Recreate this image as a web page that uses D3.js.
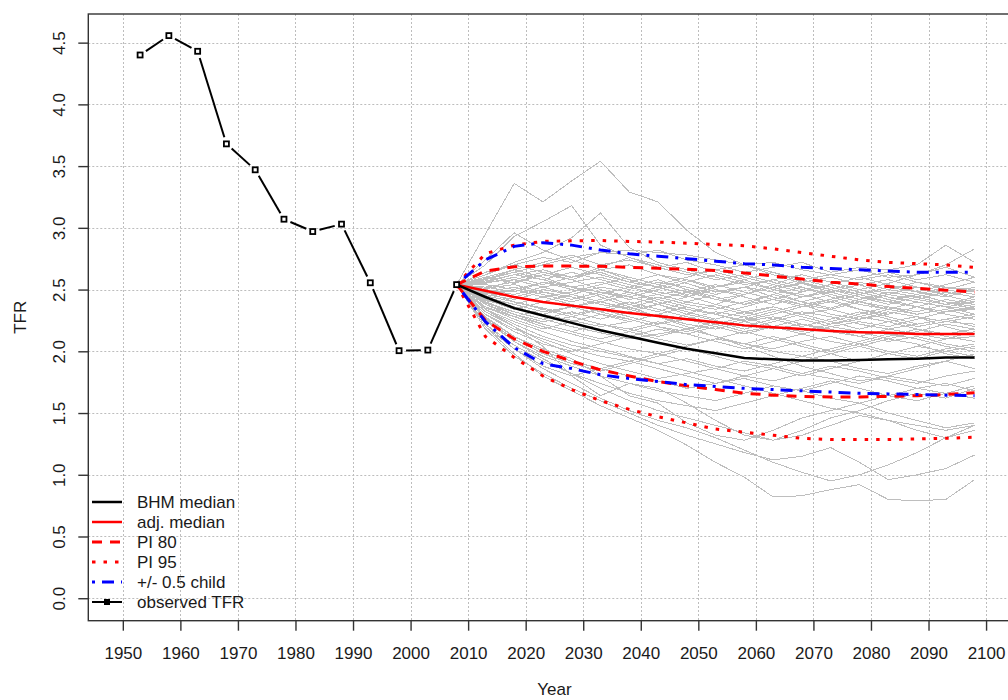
<!DOCTYPE html>
<html>
<head>
<meta charset="utf-8">
<script src="https://cdn.jsdelivr.net/npm/d3@7"></script>
<style>
  html, body { margin: 0; padding: 0; background: #fff; }
  svg { display: block; font-family: "Liberation Sans", Arial, sans-serif; }
</style>
</head>
<body>
<svg id="chart" width="1008" height="700"></svg>
<script>
// ---------------- data ----------------
const obsYears = [1953, 1958, 1963, 1968, 1973, 1978, 1983, 1988, 1993, 1998, 2003, 2008];
const obsTFR   = [4.40, 4.557, 4.43, 3.68, 3.47, 3.07, 2.97, 3.03, 2.555, 2.005, 2.01, 2.54];

const projYears = [2008, 2013, 2018, 2023, 2028, 2033, 2038, 2043, 2048, 2053, 2058, 2063, 2068, 2073, 2078, 2083, 2088, 2093, 2098];
const bhmMedian = [2.54, 2.44, 2.35, 2.29, 2.23, 2.17, 2.12, 2.07, 2.02, 1.985, 1.945, 1.935, 1.925, 1.925, 1.93, 1.935, 1.94, 1.95, 1.95];
const adjMedian = [2.54, 2.49, 2.44, 2.40, 2.37, 2.34, 2.31, 2.285, 2.26, 2.235, 2.21, 2.195, 2.18, 2.165, 2.155, 2.15, 2.14, 2.14, 2.14];
const pi80Upper = [2.54, 2.65, 2.685, 2.69, 2.69, 2.688, 2.68, 2.672, 2.665, 2.655, 2.635, 2.61, 2.585, 2.56, 2.545, 2.525, 2.51, 2.495, 2.48];
const pi80Lower = [2.54, 2.25, 2.10, 2.00, 1.92, 1.85, 1.80, 1.755, 1.72, 1.69, 1.66, 1.645, 1.635, 1.63, 1.63, 1.635, 1.64, 1.65, 1.665];
const pi95Upper = [2.54, 2.79, 2.86, 2.89, 2.895, 2.898, 2.89, 2.885, 2.875, 2.865, 2.855, 2.83, 2.80, 2.77, 2.74, 2.72, 2.71, 2.70, 2.68];
const pi95Lower = [2.54, 2.12, 1.95, 1.80, 1.69, 1.60, 1.53, 1.47, 1.42, 1.37, 1.345, 1.32, 1.295, 1.285, 1.285, 1.285, 1.29, 1.295, 1.305];
const halfChildUpper = [2.54, 2.74, 2.85, 2.88, 2.86, 2.82, 2.79, 2.77, 2.75, 2.73, 2.71, 2.70, 2.68, 2.67, 2.66, 2.65, 2.64, 2.64, 2.64];
const halfChildLower = [2.54, 2.24, 2.03, 1.90, 1.86, 1.81, 1.78, 1.755, 1.73, 1.715, 1.70, 1.69, 1.68, 1.67, 1.66, 1.655, 1.65, 1.645, 1.64];

// trajectories: values for 2013..2098 (all start at 2008 = 2.54)
const trajStart = 2.54;
const trajectories = [
  [2.95,3.36,3.21,3.38,3.54,3.29,3.21,2.98,2.80,2.70,2.62,2.55,2.50,2.44,2.40,2.46,2.40,2.36],
  [2.70,2.93,3.05,3.18,2.86,2.76,2.68,2.72,2.64,2.58,2.50,2.55,2.48,2.42,2.46,2.52,2.45,2.40],
  [2.62,2.72,2.80,2.92,3.12,2.84,2.72,2.66,2.60,2.54,2.58,2.62,2.56,2.50,2.55,2.62,2.68,2.60],
  [2.74,2.96,2.82,2.74,2.66,2.70,2.62,2.55,2.48,2.52,2.44,2.38,2.42,2.34,2.30,2.36,2.32,2.34],
  [2.64,2.70,2.76,2.72,2.80,2.78,2.82,2.74,2.70,2.64,2.68,2.72,2.64,2.68,2.66,2.70,2.86,2.72],
  [2.60,2.66,2.72,2.78,2.70,2.74,2.68,2.62,2.66,2.70,2.64,2.58,2.62,2.66,2.60,2.62,2.70,2.83],
  [2.56,2.62,2.66,2.60,2.64,2.56,2.52,2.58,2.50,2.46,2.52,2.44,2.48,2.54,2.46,2.42,2.48,2.44],
  [2.52,2.48,2.56,2.50,2.46,2.52,2.58,2.50,2.42,2.38,2.46,2.52,2.44,2.38,2.34,2.40,2.36,2.30],
  [2.48,2.52,2.46,2.40,2.46,2.38,2.32,2.40,2.46,2.52,2.48,2.40,2.35,2.42,2.48,2.44,2.38,2.40],
  [2.50,2.44,2.40,2.36,2.42,2.48,2.40,2.34,2.30,2.36,2.42,2.38,2.30,2.26,2.32,2.28,2.24,2.28],
  [2.56,2.58,2.52,2.46,2.40,2.35,2.42,2.36,2.30,2.25,2.30,2.36,2.40,2.34,2.28,2.22,2.26,2.20],
  [2.45,2.40,2.35,2.30,2.34,2.28,2.22,2.26,2.32,2.28,2.20,2.16,2.22,2.28,2.24,2.18,2.14,2.18],
  [2.60,2.55,2.62,2.58,2.50,2.44,2.38,2.30,2.25,2.20,2.26,2.32,2.28,2.22,2.18,2.14,2.10,2.12],
  [2.42,2.36,2.30,2.25,2.20,2.24,2.30,2.36,2.30,2.24,2.18,2.22,2.16,2.12,2.18,2.22,2.26,2.30],
  [2.50,2.46,2.52,2.56,2.60,2.54,2.48,2.44,2.52,2.58,2.64,2.56,2.50,2.46,2.40,2.36,2.32,2.35],
  [2.46,2.42,2.48,2.44,2.38,2.34,2.28,2.22,2.18,2.24,2.28,2.22,2.18,2.12,2.08,2.12,2.06,2.02],
  [2.40,2.32,2.26,2.20,2.15,2.10,2.14,2.18,2.12,2.06,2.02,2.08,2.12,2.06,2.00,1.96,2.02,2.06],
  [2.38,2.30,2.24,2.28,2.22,2.16,2.10,2.05,2.10,2.16,2.20,2.14,2.08,2.04,2.10,2.06,1.98,1.94],
  [2.44,2.38,2.32,2.36,2.40,2.46,2.52,2.45,2.38,2.32,2.36,2.30,2.34,2.40,2.36,2.32,2.38,2.44],
  [2.36,2.28,2.20,2.14,2.08,2.02,1.98,2.04,2.10,2.06,2.00,1.96,2.02,2.08,2.14,2.10,2.04,2.00],
  [2.34,2.22,2.12,2.05,2.00,1.95,1.90,1.94,1.88,1.84,1.90,1.96,1.92,1.86,1.82,1.88,1.92,1.86],
  [2.30,2.18,2.10,2.02,1.96,1.92,1.98,1.92,1.86,1.80,1.76,1.82,1.88,1.84,1.78,1.74,1.80,1.84],
  [2.32,2.20,2.08,1.98,1.90,1.84,1.78,1.82,1.86,1.92,1.88,1.82,1.78,1.74,1.80,1.76,1.72,1.78],
  [2.28,2.12,2.00,1.92,1.86,1.80,1.76,1.70,1.74,1.78,1.72,1.68,1.74,1.80,1.76,1.70,1.66,1.72],
  [2.25,2.08,1.96,1.88,1.80,1.74,1.68,1.64,1.60,1.66,1.72,1.68,1.62,1.58,1.64,1.70,1.74,1.68],
  [2.22,2.05,1.92,1.82,1.74,1.66,1.60,1.56,1.52,1.58,1.64,1.70,1.76,1.70,1.64,1.60,1.66,1.62],
  [2.20,1.98,1.80,1.68,1.56,1.46,1.36,1.24,1.10,0.98,0.82,0.83,0.88,0.92,0.80,0.79,0.80,0.96],
  [2.18,1.96,1.82,1.70,1.60,1.50,1.40,1.32,1.25,1.18,1.12,1.15,1.22,1.10,0.96,1.00,1.05,1.16],
  [2.22,2.02,1.86,1.74,1.62,1.52,1.44,1.38,1.30,1.20,1.10,1.02,0.95,1.00,1.08,1.18,1.30,1.40],
  [2.26,2.08,1.94,1.82,1.70,1.60,1.52,1.46,1.40,1.34,1.28,1.32,1.40,1.48,1.44,1.36,1.30,1.36],
  [2.48,2.40,2.34,2.28,2.34,2.40,2.34,2.28,2.22,2.28,2.34,2.28,2.22,2.26,2.30,2.36,2.30,2.26],
  [2.42,2.34,2.40,2.46,2.40,2.34,2.38,2.44,2.50,2.44,2.38,2.44,2.50,2.56,2.50,2.46,2.52,2.48],
  [2.54,2.50,2.44,2.48,2.54,2.60,2.54,2.48,2.42,2.46,2.52,2.58,2.52,2.46,2.50,2.56,2.50,2.46],
  [2.36,2.26,2.18,2.24,2.30,2.26,2.20,2.14,2.20,2.26,2.32,2.38,2.34,2.28,2.34,2.40,2.36,2.34],
  [2.30,2.16,2.06,2.00,2.06,2.12,2.18,2.14,2.08,2.02,2.08,2.14,2.20,2.16,2.10,2.16,2.22,2.18],
  [2.26,2.10,1.98,1.90,1.84,1.90,1.96,2.02,1.96,1.90,1.86,1.92,1.98,2.04,1.98,1.94,2.00,2.04],
  [2.20,2.02,1.88,1.80,1.86,1.92,1.86,1.80,1.74,1.80,1.86,1.80,1.86,1.92,1.98,2.04,2.00,1.96],
  [2.58,2.66,2.60,2.52,2.44,2.36,2.28,2.20,2.12,2.04,1.96,1.88,1.82,1.76,1.80,1.86,1.92,1.98],
  [2.40,2.30,2.22,2.16,2.10,2.16,2.22,2.30,2.38,2.46,2.54,2.62,2.56,2.50,2.44,2.40,2.36,2.40],
  [2.34,2.24,2.16,2.08,2.02,1.96,1.90,1.84,1.78,1.72,1.66,1.60,1.54,1.50,1.44,1.40,1.36,1.40],
  [2.27,2.12,2.02,1.94,1.80,1.64,1.58,1.42,1.32,1.28,1.36,1.46,1.52,1.58,1.50,1.44,1.38,1.42],
  [2.62,2.70,2.64,2.58,2.66,2.60,2.54,2.60,2.66,2.60,2.54,2.48,2.54,2.60,2.54,2.48,2.44,2.50],
  [2.38,2.28,2.34,2.28,2.22,2.18,2.24,2.18,2.12,2.06,2.12,2.06,2.00,2.06,2.12,2.18,2.12,2.08],
  [2.44,2.50,2.44,2.38,2.32,2.26,2.20,2.16,2.22,2.16,2.10,2.04,1.98,1.92,1.98,2.04,2.10,2.16],
  [2.52,2.56,2.62,2.68,2.62,2.56,2.62,2.58,2.52,2.56,2.50,2.46,2.40,2.46,2.52,2.48,2.54,2.60],
  [2.34,2.20,2.04,1.80,1.64,1.74,1.70,1.58,1.44,1.32,1.28,1.36,1.46,1.52,1.60,1.66,1.62,1.70],
  [2.58,2.64,2.70,2.76,2.80,2.82,2.80,2.78,2.74,2.70,2.72,2.66,2.62,2.58,2.62,2.56,2.52,2.50],
  [2.50,2.58,2.64,2.60,2.68,2.76,2.70,2.64,2.58,2.62,2.56,2.50,2.54,2.60,2.64,2.58,2.62,2.56],
  [2.55,2.60,2.54,2.60,2.66,2.58,2.52,2.46,2.52,2.58,2.50,2.44,2.50,2.44,2.38,2.44,2.50,2.56],
  [2.47,2.44,2.50,2.46,2.52,2.48,2.42,2.48,2.54,2.48,2.42,2.36,2.42,2.48,2.42,2.36,2.42,2.38],
  [2.43,2.38,2.44,2.38,2.32,2.38,2.44,2.38,2.34,2.40,2.46,2.40,2.46,2.40,2.34,2.30,2.34,2.28],
  [2.57,2.62,2.58,2.64,2.58,2.52,2.46,2.50,2.44,2.38,2.42,2.48,2.54,2.48,2.42,2.46,2.40,2.34],
  [2.39,2.32,2.26,2.32,2.26,2.32,2.38,2.32,2.26,2.32,2.26,2.20,2.26,2.32,2.26,2.20,2.24,2.22],
  [2.51,2.54,2.48,2.42,2.48,2.42,2.46,2.40,2.36,2.30,2.36,2.30,2.24,2.30,2.36,2.30,2.34,2.38],
  [2.46,2.50,2.56,2.52,2.48,2.44,2.50,2.56,2.62,2.56,2.50,2.56,2.60,2.54,2.58,2.52,2.46,2.52],
  [2.35,2.28,2.22,2.16,2.22,2.18,2.12,2.18,2.24,2.18,2.24,2.30,2.24,2.18,2.24,2.28,2.20,2.14],
  [2.41,2.36,2.30,2.36,2.30,2.24,2.30,2.26,2.20,2.14,2.20,2.26,2.20,2.24,2.20,2.26,2.32,2.36],
  [2.59,2.64,2.58,2.52,2.56,2.50,2.56,2.52,2.46,2.52,2.58,2.52,2.46,2.40,2.46,2.42,2.38,2.42]
];

const xTicks = [1950, 1960, 1970, 1980, 1990, 2000, 2010, 2020, 2030, 2040, 2050, 2060, 2070, 2080, 2090, 2100];
const yTicks = [0, 0.5, 1, 1.5, 2, 2.5, 3, 3.5, 4, 4.5];

const legendItems = [
  { label: "BHM median",    color: "#000000", dash: null,          width: 2.5, marker: false },
  { label: "adj. median",   color: "#ff0000", dash: null,          width: 2.5, marker: false },
  { label: "PI 80",         color: "#ff0000", dash: "10,8",        width: 3,   marker: false },
  { label: "PI 95",         color: "#ff0000", dash: "3.5,8",       width: 3,   marker: false },
  { label: "+/- 0.5 child", color: "#0000ff", dash: "3,7,12,7",    width: 3,   marker: false },
  { label: "observed TFR",  color: "#000000", dash: null,          width: 2,   marker: true  }
];

// ---------------- layout ----------------
const svg = d3.select("#chart");
const plotLeft = 88.3, plotRight = 1020.6, plotTop = 14, plotBottom = 620.7;
const x = d3.scaleLinear().domain([1944, 2106]).range([plotLeft, plotRight]);
const y = d3.scaleLinear().domain([-0.182, 4.732]).range([plotBottom, plotTop]);
const FONT = 17;
const TXT = "#1a1a1a";

// grid
const grid = svg.append("g").attr("stroke", "#bdbdbd").attr("stroke-width", 1).attr("stroke-dasharray", "2,2");
grid.selectAll("line.gx").data(xTicks).join("line")
  .attr("x1", d => Math.round(x(d)) + 0.5).attr("x2", d => Math.round(x(d)) + 0.5)
  .attr("y1", plotTop).attr("y2", plotBottom);
grid.selectAll("line.gy").data(yTicks).join("line")
  .attr("y1", d => Math.round(y(d)) + 0.5).attr("y2", d => Math.round(y(d)) + 0.5)
  .attr("x1", plotLeft).attr("x2", plotRight);

// trajectories
const line = d3.line().x(d => x(d[0])).y(d => y(d[1]));
const trajG = svg.append("g").attr("shape-rendering", "crispEdges");
trajectories.forEach(t => {
  const pts = [[projYears[0], trajStart]].concat(t.map((v, i) => [projYears[i + 1], v]));
  trajG.append("path").attr("d", line(pts)).attr("fill", "none")
    .attr("stroke", "#bebebe").attr("stroke-width", 1);
});

function drawSeries(vals, color, width, dash) {
  const p = svg.append("path")
    .attr("d", line(projYears.map((yr, i) => [yr, vals[i]])))
    .attr("fill", "none").attr("stroke", color).attr("stroke-width", width);
  if (dash) p.attr("stroke-dasharray", dash);
}
drawSeries(pi95Upper, "#ff0000", 3, "3.5,8");
drawSeries(pi95Lower, "#ff0000", 3, "3.5,8");
drawSeries(pi80Upper, "#ff0000", 3, "10,8");
drawSeries(pi80Lower, "#ff0000", 3, "10,8");
drawSeries(halfChildUpper, "#0000ff", 3, "3,7,12,7");
drawSeries(halfChildLower, "#0000ff", 3, "3,7,12,7");
drawSeries(adjMedian, "#ff0000", 2.5, null);
drawSeries(bhmMedian, "#000000", 2.5, null);

// observed (type "b": lines with gaps around points)
const obsG = svg.append("g");
const gap = 7;
for (let i = 0; i < obsYears.length - 1; i++) {
  const x1 = x(obsYears[i]), y1 = y(obsTFR[i]);
  const x2 = x(obsYears[i + 1]), y2 = y(obsTFR[i + 1]);
  const len = Math.hypot(x2 - x1, y2 - y1);
  if (len <= 2 * gap) continue;
  const ux = (x2 - x1) / len, uy = (y2 - y1) / len;
  obsG.append("line")
    .attr("x1", x1 + ux * gap).attr("y1", y1 + uy * gap)
    .attr("x2", x2 - ux * gap).attr("y2", y2 - uy * gap)
    .attr("stroke", "#000").attr("stroke-width", 2);
}
obsG.selectAll("rect").data(obsYears).join("rect")
  .attr("x", (d) => x(d) - 2.5).attr("y", (d, i) => y(obsTFR[i]) - 2.5)
  .attr("width", 5).attr("height", 5)
  .attr("fill", "#fff").attr("stroke", "#000").attr("stroke-width", 1.8);

// box
svg.append("rect").attr("x", plotLeft).attr("y", plotTop)
  .attr("width", plotRight - plotLeft).attr("height", plotBottom - plotTop)
  .attr("fill", "none").attr("stroke", "#333").attr("stroke-width", 1.4);

// axes
const xAxis = svg.append("g").attr("transform", `translate(0,${plotBottom})`)
  .call(d3.axisBottom(x).tickValues(xTicks).tickFormat(d3.format("d")).tickSize(10));
xAxis.select(".domain").remove();
xAxis.selectAll(".tick line").attr("stroke", "#333").attr("stroke-width", 1.4);
xAxis.selectAll(".tick text").attr("y", 32.5).attr("dy", "0.35em")
  .attr("font-size", FONT).attr("font-family", "Liberation Sans, Arial, sans-serif").attr("fill", TXT);

const yAxis = svg.append("g").attr("transform", `translate(${plotLeft},0)`)
  .call(d3.axisLeft(y).tickValues(yTicks).tickFormat(d3.format(".1f")).tickSize(10));
yAxis.select(".domain").remove();
yAxis.selectAll(".tick line").attr("stroke", "#333").attr("stroke-width", 1.4);
yAxis.selectAll(".tick text")
  .attr("x", null).attr("dy", null)
  .attr("transform", "translate(-29,0) rotate(-90)")
  .attr("text-anchor", "middle").attr("dy", "0.35em")
  .attr("font-size", FONT).attr("font-family", "Liberation Sans, Arial, sans-serif").attr("fill", TXT);

// axis titles
svg.append("text").attr("x", (plotLeft + plotRight) / 2).attr("y", 689).attr("dy", "0.35em")
  .attr("text-anchor", "middle").attr("font-size", FONT).attr("fill", TXT).text("Year");
svg.append("text").attr("transform", `translate(20,${(plotTop + plotBottom) / 2}) rotate(-90)`)
  .attr("dy", "0.35em").attr("text-anchor", "middle").attr("font-size", FONT).attr("fill", TXT).text("TFR");

// legend
const lg = svg.append("g");
legendItems.forEach((it, i) => {
  const ly = 502 + i * 20;
  const l = lg.append("line").attr("x1", 92).attr("x2", 122).attr("y1", ly).attr("y2", ly)
    .attr("stroke", it.color).attr("stroke-width", it.width);
  if (it.dash) l.attr("stroke-dasharray", it.dash);
  if (it.marker) lg.append("rect").attr("x", 104).attr("y", ly - 3).attr("width", 6).attr("height", 6).attr("fill", "#000");
  lg.append("text").attr("x", 137).attr("y", ly).attr("dy", "0.35em")
    .attr("font-size", FONT).attr("fill", TXT).text(it.label);
});
</script>
</body>
</html>
